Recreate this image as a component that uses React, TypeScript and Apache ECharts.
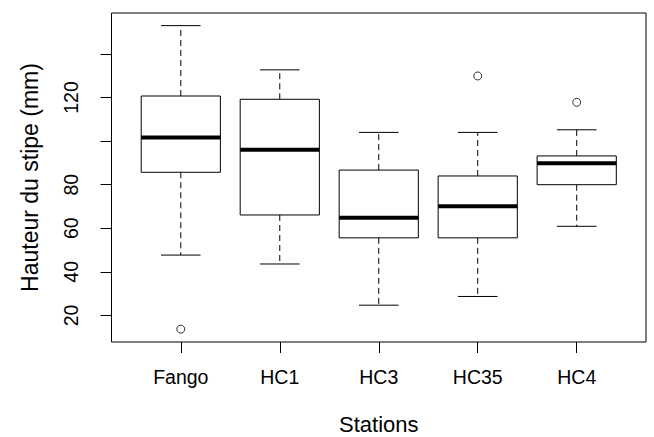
import React, { useEffect, useRef } from "react";
import * as echarts from "echarts";

const categories = ["Fango", "HC1", "HC3", "HC35", "HC4"];
const lowerWhisker = [47.7, 43.6, 24.7, 28.7, 60.9];
const q1 = [85.7, 66.1, 55.6, 55.6, 80.0];
const median = [101.7, 96.0, 64.8, 70.1, 89.8];
const q3 = [120.7, 119.2, 86.7, 84.0, 93.2];
const upperWhisker = [153.0, 132.7, 104.0, 104.0, 105.2];
const outlierStations = ["Fango", "HC35", "HC4"];
const outlierValues = [13.7, 129.9, 117.8];
const yTickValues = [20, 40, 60, 80, 100, 120, 140];
const yLabelValues = [20, 40, 60, 80, 120];

const FONT = "'Liberation Sans', Arial, sans-serif";
const INK = "#000";

export default function App() {
  const ref = useRef<HTMLDivElement>(null);
  useEffect(() => {
    if (!ref.current) return;
    const chart = echarts.init(ref.current, null, { renderer: "svg" });
    const positions = categories.map((_, i) => i + 1);
    const boxData = categories.map((_, i) => [
      positions[i],
      lowerWhisker[i],
      q1[i],
      median[i],
      q3[i],
      upperWhisker[i],
    ]);
    const outlierData = outlierStations.map((s, i) => [
      categories.indexOf(s) + 1,
      outlierValues[i],
    ]);
    chart.setOption({
      animation: false,
      backgroundColor: "#fff",
      textStyle: { fontFamily: FONT },
      grid: {
        left: 111.5,
        right: 8,
        top: 13,
        bottom: 95,
        containLabel: false,
        outerBoundsMode: "none",
        show: true,
        borderColor: INK,
        borderWidth: 1,
        backgroundColor: "transparent",
      },
      xAxis: {
        type: "value",
        min: 0.3,
        max: 5.7,
        name: "Stations",
        nameLocation: "middle",
        nameGap: 71,
        nameTextStyle: { fontSize: 22, color: INK, fontFamily: FONT },
        axisLine: { show: false },
        splitLine: { show: false },
        axisTick: {
          show: true,
          length: 11,
          customValues: positions,
          lineStyle: { color: INK, width: 1 },
        },
        axisLabel: {
          customValues: positions,
          formatter: (v: number) => categories[Math.round(v) - 1] ?? "",
          fontSize: 19.5,
          color: INK,
          margin: 25,
          fontFamily: FONT,
        },
      },
      yAxis: {
        type: "value",
        min: 7.8,
        max: 158.8,
        name: "Hauteur du stipe (mm)",
        nameLocation: "middle",
        nameGap: 70,
        nameRotate: 90,
        nameTextStyle: { fontSize: 23, color: INK, fontFamily: FONT },
        axisLine: { show: false },
        splitLine: { show: false },
        axisTick: {
          show: true,
          length: 11,
          customValues: yTickValues,
          lineStyle: { color: INK, width: 1 },
        },
        axisLabel: {
          customValues: yLabelValues,
          rotate: 90,
          fontSize: 19.5,
          color: INK,
          margin: 31,
          fontFamily: FONT,
        },
      },
      series: [
        {
          type: "custom",
          data: boxData,
          encode: { x: 0, y: [1, 2, 3, 4, 5] },
          renderItem: (params: any, api: any) => {
            const x = api.value(0);
            const pLow = api.coord([x, api.value(1)]);
            const pQ1 = api.coord([x, api.value(2)]);
            const pMed = api.coord([x, api.value(3)]);
            const pQ3 = api.coord([x, api.value(4)]);
            const pHigh = api.coord([x, api.value(5)]);
            const unit = api.size([1, 0])[0];
            const hw = unit * 0.4;
            const cw = hw * 0.5;
            const cx = pLow[0];
            const dash = { stroke: INK, lineWidth: 1, lineDash: [6, 4] };
            const solid = { stroke: INK, lineWidth: 1 };
            return {
              type: "group",
              children: [
                { type: "line", shape: { x1: cx, y1: pQ3[1], x2: cx, y2: pHigh[1] }, style: dash },
                { type: "line", shape: { x1: cx, y1: pQ1[1], x2: cx, y2: pLow[1] }, style: dash },
                { type: "line", shape: { x1: cx - cw, y1: pHigh[1], x2: cx + cw, y2: pHigh[1] }, style: solid },
                { type: "line", shape: { x1: cx - cw, y1: pLow[1], x2: cx + cw, y2: pLow[1] }, style: solid },
                {
                  type: "rect",
                  shape: { x: cx - hw, y: pQ3[1], width: 2 * hw, height: pQ1[1] - pQ3[1] },
                  style: { fill: "#fff", stroke: INK, lineWidth: 1 },
                },
                { type: "line", shape: { x1: cx - hw, y1: pMed[1], x2: cx + hw, y2: pMed[1] }, style: { stroke: INK, lineWidth: 4 } },
              ],
            };
          },
        },
        {
          type: "scatter",
          data: outlierData,
          symbol: "circle",
          symbolSize: 8,
          itemStyle: { color: "#fff", borderColor: INK, borderWidth: 1 },
        },
      ],
    });
    return () => chart.dispose();
  }, []);
  return (
    <div
      ref={ref}
      style={{ position: "fixed", left: 0, top: 0, width: 654, height: 437 }}
    />
  );
}
